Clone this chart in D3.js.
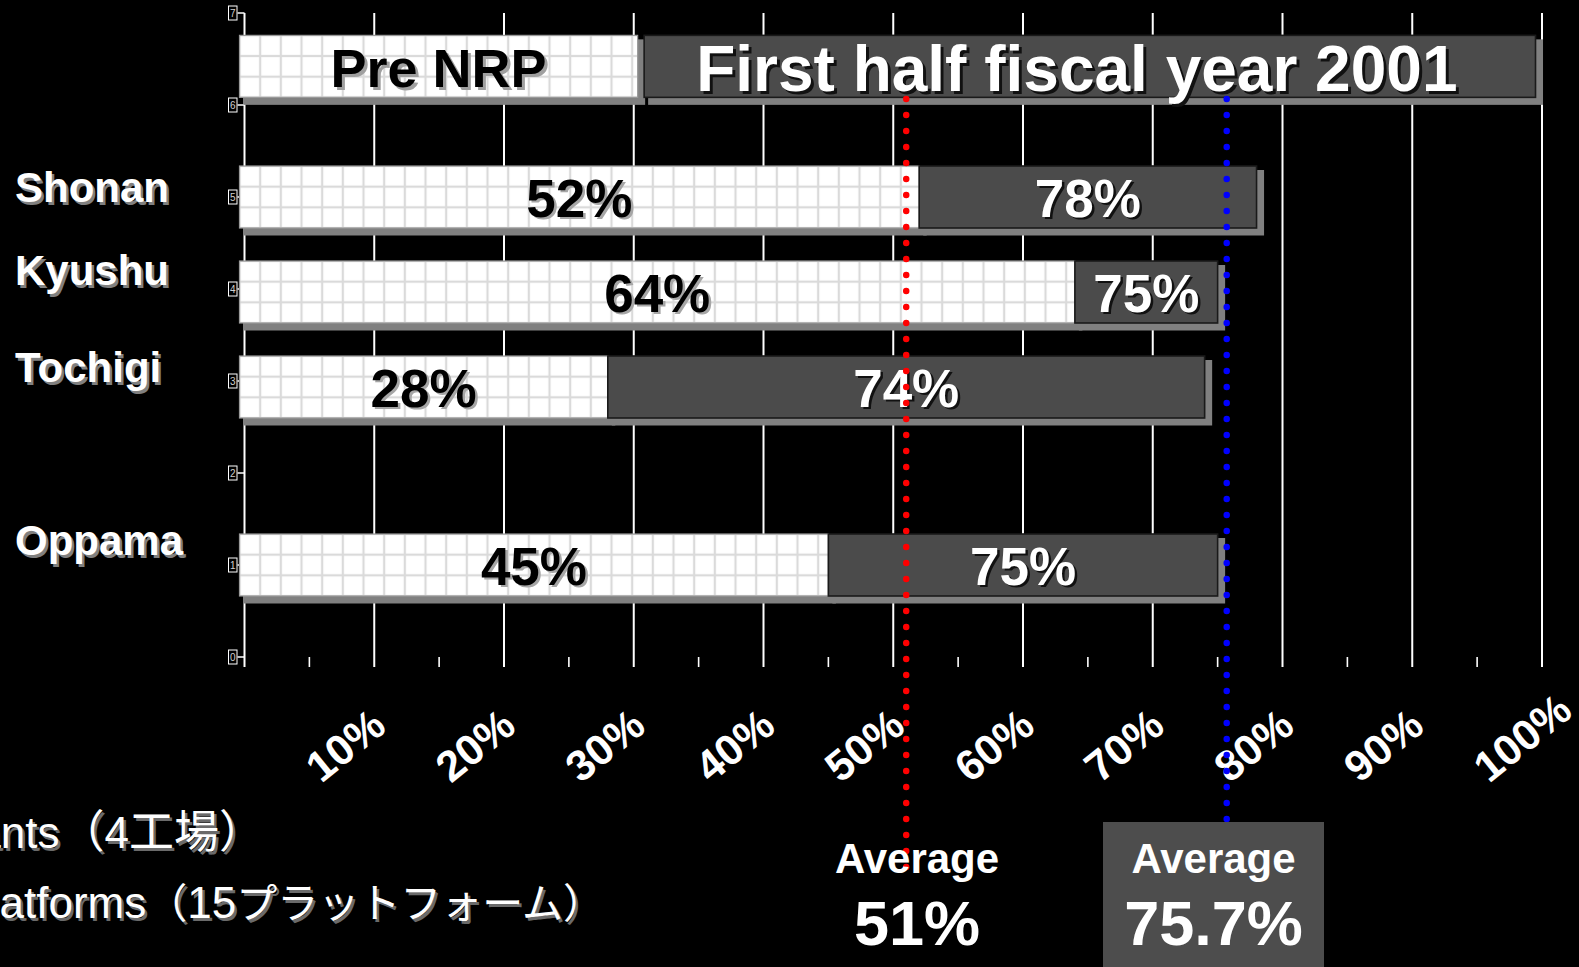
<!DOCTYPE html>
<html>
<head>
<meta charset="utf-8">
<script src="https://cdn.jsdelivr.net/npm/d3@7"></script>
<style>
  html, body { margin: 0; padding: 0; background: #000; overflow: hidden; }
  svg { display: block; }
</style>
</head>
<body>
<svg id="chart" width="1579" height="967"></svg>
<script>
// ---- data ----
const plants = ["Shonan", "Kyushu", "Tochigi", "Oppama"];
const plantRows = [5, 4, 3, 1];
const preNRP = [52, 64, 28, 45];
const firstHalf2001 = [78, 75, 74, 75];
const headerLabels = ["Pre NRP", "First half fiscal year 2001"];
const headerStarts = [0, 30.8];
const headerEnds = [30.3, 99.5];
const headerRow = 6.42;
const xTicks = [10, 20, 30, 40, 50, 60, 70, 80, 90, 100];
const xMinorTicks = [5, 15, 25, 35, 45, 55, 65, 75, 85, 95];
const yTicks = [0, 1, 2, 3, 4, 5, 6, 7];
const averages = [51, 75.7];
const averageLabels = ["51%", "75.7%"];
const legendLines = ["4 Plants（4工場）", "15 Platforms（15プラットフォーム）"];

// ---- layout ----
const LATIN = "'Liberation Sans', Arial, Helvetica, sans-serif";
const CJK = "'Noto Sans CJK JP', 'Noto Sans CJK SC', sans-serif";
const BAR_H = 62;
const svg = d3.select("#chart");

const x = d3.scaleLinear().domain([0, 100]).range([244.5, 1542]);
const y = d3.scaleLinear().domain([0, 7]).range([657, 13]);
const barLeft = x(0) - 5;
const xPos = v => (v === 0 ? barLeft : x(v));
// small vertical nudges of the plant rows (px) and plant-name baselines (px)
const rowNudge = [0, 3, 6, 0];
const plantLabelBase = [202, 285, 382, 555];
const rowCenter = (row, i) => y(row) + (i == null ? 0 : rowNudge[i]);

svg.append("rect").attr("width", 1579).attr("height", 967).attr("fill", "#000");

// text with an offset drop shadow
function shadowText(parent, o) {
  const g = parent.append("g")
    .attr("font-family", o.family || LATIN)
    .attr("font-size", o.size)
    .attr("font-weight", o.weight || "bold")
    .attr("text-anchor", o.anchor || "middle");
  if (o.shadow) {
    g.append("text").attr("x", o.x + (o.off || 2.5)).attr("y", o.y + (o.off || 2.5))
      .attr("fill", o.shadow).text(o.text);
  }
  g.append("text").attr("x", o.x).attr("y", o.y).attr("fill", o.fill).text(o.text);
  return g;
}

// ---- grid pattern for the white segments ----
const defs = svg.append("defs");
const cell = BAR_H / 3;
const patRows = plantRows.map((r, i) => rowCenter(r, i)).concat([y(headerRow)]);
patRows.forEach((cy, i) => {
  const p = defs.append("pattern")
    .attr("id", "cells" + i)
    .attr("patternUnits", "userSpaceOnUse")
    .attr("x", barLeft).attr("y", cy - BAR_H / 2)
    .attr("width", cell).attr("height", cell);
  p.append("rect").attr("width", cell).attr("height", cell).attr("fill", "#fff");
  p.append("rect").attr("x", 0).attr("width", 1.1).attr("height", cell).attr("fill", "#dadada");
  p.append("rect").attr("x", cell - 1.1).attr("width", 1.1).attr("height", cell).attr("fill", "#dadada");
  p.append("rect").attr("y", 0).attr("height", 1.1).attr("width", cell).attr("fill", "#dadada");
  p.append("rect").attr("y", cell - 1.1).attr("height", 1.1).attr("width", cell).attr("fill", "#dadada");
});

// ---- vertical gridlines and x ticks ----
const axisBottom = y(0) + 10;
svg.append("g").selectAll("line").data(xTicks).join("line")
  .attr("x1", d => x(d)).attr("x2", d => x(d))
  .attr("y1", y(7)).attr("y2", axisBottom)
  .attr("stroke", "#fff").attr("stroke-width", 2);
svg.append("g").selectAll("line").data(xMinorTicks).join("line")
  .attr("x1", d => x(d)).attr("x2", d => x(d))
  .attr("y1", y(0)).attr("y2", axisBottom)
  .attr("stroke", "#fff").attr("stroke-width", 1.6);

// y axis line, ticks and boxed tick labels
svg.append("line")
  .attr("x1", x(0)).attr("x2", x(0)).attr("y1", y(7)).attr("y2", axisBottom)
  .attr("stroke", "#fff").attr("stroke-width", 2);
const yt = svg.append("g").selectAll("g").data(yTicks).join("g")
  .attr("transform", d => `translate(0,${y(d)})`);
yt.append("line").attr("x1", x(0) - 7).attr("x2", x(0))
  .attr("stroke", "#fff").attr("stroke-width", 1.5);
yt.append("rect").attr("x", x(0) - 16).attr("y", -7).attr("width", 8.5).attr("height", 14)
  .attr("fill", "#000").attr("stroke", "#fff").attr("stroke-width", 1);
yt.append("text").attr("x", x(0) - 11.75).attr("y", 4)
  .attr("text-anchor", "middle").attr("font-family", LATIN).attr("font-size", 10)
  .attr("fill", "#cfcfcf").text(d => d);

// x tick labels, rotated
svg.append("g").selectAll("text").data(xTicks).join("text")
  .attr("transform", d => `translate(${x(d) - 53},784) rotate(-39)`)
  .attr("font-family", LATIN).attr("font-size", 43).attr("font-weight", "bold")
  .attr("fill", "#fff").text(d => d + "%");

// ---- segments ----
const segs = [];
plants.forEach((p, i) => {
  const cy = rowCenter(plantRows[i], i);
  segs.push({ cy, x0: 0, x1: preNRP[i], kind: "pre", label: preNRP[i] + "%", pat: i });
  segs.push({ cy, x0: preNRP[i], x1: firstHalf2001[i], kind: "post", label: firstHalf2001[i] + "%" });
});
headerLabels.forEach((h, i) => {
  segs.push({ cy: y(headerRow), x0: headerStarts[i], x1: headerEnds[i], kind: i === 0 ? "pre" : "post",
    label: h, header: true, pat: plantRows.length });
});

const barG = svg.append("g");
// shadows
barG.selectAll("rect.sh").data(segs).join("rect").attr("class", "sh")
  .attr("x", d => xPos(d.x0) + 4).attr("y", d => d.cy - BAR_H / 2 + 4)
  .attr("width", d => xPos(d.x1) - xPos(d.x0) + 3.5).attr("height", BAR_H + 3.5)
  .attr("fill", "#808080");
// bars
barG.selectAll("rect.bar").data(segs).join("rect").attr("class", "bar")
  .attr("x", d => xPos(d.x0)).attr("y", d => d.cy - BAR_H / 2)
  .attr("width", d => xPos(d.x1) - xPos(d.x0)).attr("height", BAR_H)
  .attr("fill", d => d.kind === "pre" ? `url(#cells${d.pat})` : "#4b4b4b")
  .attr("stroke", d => d.kind === "pre" ? "#9a9a9a" : "#1a1a1a")
  .attr("stroke-width", d => d.kind === "pre" ? 1.2 : 1.6);

// segment labels
segs.forEach(d => {
  const cx = (xPos(d.x0) + xPos(d.x1)) / 2;
  const dark = d.kind === "post";
  if (d.header) {
    const size = dark ? 64 : 54;
    shadowText(svg, {
      x: cx + (dark ? -13 : 0), y: d.cy + (dark ? 25 : 21), text: d.label, size,
      fill: dark ? "#fff" : "#000", shadow: dark ? "#111" : "#a0a0a0", off: 3
    });
  } else {
    shadowText(svg, {
      x: cx, y: d.cy + 19.5, text: d.label, size: 53,
      fill: dark ? "#fff" : "#000", shadow: dark ? "#111" : "#a6a6a6", off: 2.5
    });
  }
});

// plant names
plants.forEach((p, i) => {
  shadowText(svg, { x: 15, y: plantLabelBase[i], text: p, size: 42,
    anchor: "start", fill: "#fff", shadow: "#808080", off: 2.5 });
});

// ---- average reference lines ----
const avgColors = ["#ff0000", "#0000ff"];
const avgLineEnd = [883, 822];
svg.append("g").selectAll("line").data(averages).join("line")
  .attr("x1", d => x(d)).attr("x2", d => x(d))
  .attr("y1", 99).attr("y2", (d, i) => avgLineEnd[i])
  .attr("stroke", (d, i) => avgColors[i]).attr("stroke-width", 6.5)
  .attr("stroke-linecap", "round").attr("stroke-dasharray", "0 16");

// average callouts
const avgCenters = [917, 1213.5];
svg.append("rect").attr("x", avgCenters[1] - 110.5).attr("y", 822)
  .attr("width", 221).attr("height", 150).attr("fill", "#4d4d4d");
averages.forEach((a, i) => {
  svg.append("text").attr("x", avgCenters[i]).attr("y", 873)
    .attr("text-anchor", "middle").attr("font-family", LATIN).attr("font-size", 42)
    .attr("font-weight", "bold").attr("fill", "#fff").text("Average");
  svg.append("text").attr("x", avgCenters[i]).attr("y", 945)
    .attr("text-anchor", "middle").attr("font-family", LATIN).attr("font-size", 63)
    .attr("font-weight", "bold").attr("fill", "#fff").text(averageLabels[i]);
});

// ---- legend lines (they run past the left edge) ----
// Latin runs and CJK runs are set in separate tspans so each uses its own font.
const legendEnds = [264, 604];
const legendBase = [848, 918];
const legendCjkSize = [45, 41];
const cjkRe = /[\u3000-\u30ff\u4e00-\u9fff\uff00-\uffef]+|[^\u3000-\u30ff\u4e00-\u9fff\uff00-\uffef]+/g;
legendLines.forEach((t, i) => {
  const runs = t.match(cjkRe);
  [["#6a6a6a", 2.5], ["#fff", 0]].forEach(([fill, off]) => {
    const txt = svg.append("text")
      .attr("x", legendEnds[i] + off).attr("y", legendBase[i] + off)
      .attr("text-anchor", "end").attr("fill", fill);
    runs.forEach(r => {
      const isCjk = /[\u3000-\u30ff\u4e00-\u9fff\uff00-\uffef]/.test(r);
      txt.append("tspan")
        .attr("font-family", isCjk ? CJK : LATIN)
        .attr("font-size", isCjk ? legendCjkSize[i] : 44)
        .text(r);
    });
  });
});
</script>
</body>
</html>
